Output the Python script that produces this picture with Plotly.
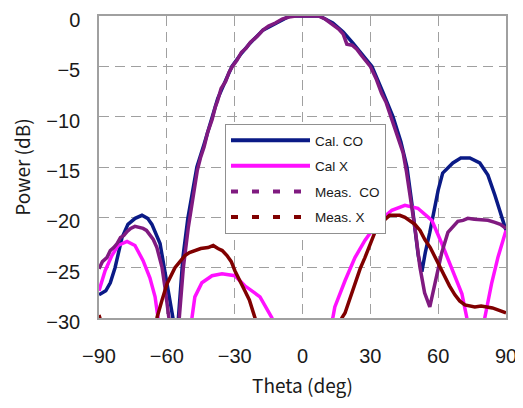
import plotly.graph_objects as go

# ---- data ----
theta_cal_co = [-90, -87, -85, -82.9, -79.8, -77.2, -74, -71, -68.5, -66.6, -63, -60.8, -58.6, -57.3, -56.2, -55,
                -52.9, -50.7, -48.4, -46.7, -43.6, -40, -37.5, -34, -31.2, -27, -23.2, -17.5, -10, -5.6, 0, 7.5,
                13.4, 18, 22.3, 26.5, 30.7, 35.6, 40, 43.5, 46.2, 48.3, 49.9, 51.2, 52.8, 54.3, 56.3, 58.5, 60,
                62, 66.5, 70, 74, 78.4, 82, 85.1, 87.5, 90]
p_cal_co = [-27.7, -27.3, -26.5, -25.0, -22.0, -20.7, -20.1, -19.8, -20.1, -20.7, -22.6, -25.6, -28.2, -30, -34, -30,
            -24.0, -20.1, -17.3, -15.0, -12.8, -10.0, -8.2, -6.4, -5.0, -3.7, -2.7, -1.4, -0.5, 0, 0, 0,
            -0.7, -1.6, -2.7, -3.8, -5.0, -7.6, -10.0, -12.5, -15.0, -18.5, -21.5, -23.8, -25.4, -23.5, -21.5, -19.0, -17.3,
            -15.6, -14.6, -14.1, -14.1, -14.6, -15.8, -17.8, -19.6, -21.3]

theta_cal_x = [-90, -87.3, -84.3, -81.6, -77.6, -74.1, -70.5, -67.5, -65.2, -63.9, -62, -56, -50, -48.9, -47.6,
               -44.5, -40, -35.6, -29.9, -25.5, -18.8, -13.5, -10, 0, 10, 13.4, 14.3, 18.8, 23.2, 27.6, 33.3,
               39.5, 45.3, 51, 57.2, 61.6, 66, 70.5, 72.7, 76, 79, 80.6, 83.7, 86.4, 90]
p_cal_x = [-27.3, -25.3, -23.8, -22.8, -22.4, -22.8, -24.3, -26.0, -27.9, -30, -33, -38, -32, -30, -27.9,
           -26.5, -25.8, -25.6, -25.8, -26.8, -27.9, -30, -33, -40, -33, -30, -28.9, -26.3, -24.0, -22.3, -20.5,
           -19.3, -18.8, -19.1, -20.3, -22.6, -25.0, -27.6, -30, -34, -33, -30, -26.5, -24.0, -21.3]

theta_meas_co = [-90, -88.5, -86.5, -85, -83.5, -82, -80.5, -79, -77.5, -76, -74.1, -72.5, -70.5, -69, -67.5, -66,
                 -64.4, -62.1, -60.8, -59.5, -58.5, -57, -56, -54.5, -52.7, -50.5, -48.5, -46.5, -45, -43.5, -42,
                 -40, -38.5, -37.5, -36, -34, -32.5, -31, -29, -27, -25, -23, -20, -17.5, -15, -12, -9, -6, -3, 0,
                 3, 7, 10, 13, 16, 18, 19.6, 22, 24, 26, 28, 30, 32.5, 35, 37, 39.5, 41, 43, 44.5, 46, 48, 50,
                 51.9, 54, 56.3, 58.5, 61.6, 64.3, 66.5, 68.7, 71, 73.1, 76, 79.3, 82, 85.1, 87.5, 90]
p_meas_co = [-25.1, -24.4, -24.0, -23.3, -23.0, -22.6, -22.0, -21.8, -21.4, -21.1, -20.9, -21.0, -21.1, -21.3, -21.7, -22.2,
             -23.0, -25.0, -27.0, -28.9, -31, -34, -33, -30, -25.0, -21.0, -18.0, -15.3, -14.0, -13.0, -11.6,
             -10.3, -9.0, -8.4, -7.2, -6.5, -5.6, -5.0, -4.4, -3.6, -3.2, -2.6, -2.0, -1.4, -1.0, -0.7, -0.3, -0.1, 0, 0,
             0, 0, -0.3, -0.8, -1.3, -1.8, -2.8, -2.9, -3.3, -3.9, -4.5, -5.0, -6.2, -7.7, -8.6, -10.2, -11.2, -12.7, -13.6, -15.5, -18.3, -21.5,
             -24.9, -27.5, -28.9, -26.5, -23.5, -21.5, -20.9, -20.4, -20.3, -20.1, -20.2, -20.3, -20.3, -20.5, -20.7, -21.1]

theta_meas_x = [-90, -89, -87, -80, -70, -66, -64.4, -62.1, -59.9, -56.4, -54, -52, -50, -47.6, -45, -41.8, -39.5,
                -37.4, -35.5, -33.4, -31.5, -29.9, -27.5, -25.5, -23.5, -21.9, -21, -19, -10, 0, 10, 15, 17.4, 18.8,
                21, 23.2, 25.5, 27.6, 30, 32, 34, 36.4, 38.5, 40.9, 43, 45.3, 47.5, 49.7, 52, 54.1, 56.5, 58.5, 61,
                63, 65, 67.4, 69.5, 71.8, 74, 76.2, 79, 82, 84, 86.4, 88, 90]
p_meas_x = [-29.7, -30.5, -32, -35, -35, -31, -30, -28.2, -26.6, -25.0, -24.3, -23.8, -23.5, -23.3, -23.1, -23.0, -22.8,
            -23.1, -23.3, -23.8, -24.4, -25.3, -26.3, -27.3, -28.2, -29.2, -30, -32, -36, -38, -36, -32, -30, -29.5,
            -28.0, -26.5, -25.1, -24.0, -22.6, -21.5, -20.7, -20.2, -19.8, -19.8, -19.8, -20.0, -20.3, -20.7, -21.3, -22.2, -23.0, -23.9, -25.0,
            -25.9, -26.8, -27.7, -28.3, -28.7, -28.8, -28.9, -28.8, -28.9, -29.0, -29.2, -29.3, -29.5]

series_names = ["Cal. CO", "Cal X", "Meas.\u00a0 CO", "Meas. X"]
series_colors = ["#0a1a86", "#ff10ff", "#801a80", "#800000"]

x_ticks = [-90, -60, -30, 0, 30, 60, 90]
y_ticks = [0, -5, -10, -15, -20, -25, -30]

fig = go.Figure()
data = [(theta_cal_co, p_cal_co), (theta_cal_x, p_cal_x), (theta_meas_co, p_meas_co), (theta_meas_x, p_meas_x)]
for (xs, ys), c in zip(data, series_colors):
    fig.add_trace(go.Scatter(x=xs, y=ys, mode="lines", line=dict(color=c, width=3.5),
                             showlegend=False, hoverinfo="skip"))

legend_dash = ["solid", "solid", "7px,14px", "7px,14px"]
for i, (name, c, d) in enumerate(zip(series_names, series_colors, legend_dash)):
    fig.add_trace(go.Scatter(x=[None], y=[None], mode="lines", name=name,
                             line=dict(color=c, width=4, dash=d), legendgroup=f"g{i}"))

axis_common = dict(
    automargin=False, ticklabeloverflow="allow",
    showgrid=True, gridcolor="#a0a0a0", gridwidth=1, griddash="10px,6px",
    showline=True, linecolor="#a0a0a0", linewidth=1.5, mirror=True,
    zeroline=False, ticks="outside", tickcolor="rgba(0,0,0,0)",
    tickfont=dict(family="Liberation Sans, Arial, sans-serif", size=20, color="#1a1a1a"),
)

# the page body has an 8px margin, so the figure is sized/offset to compensate
fig.update_layout(
    width=515, height=400,
    margin=dict(l=91, r=17, t=8, b=90),
    paper_bgcolor="white", plot_bgcolor="white",
    xaxis=dict(range=[-90, 90], tickvals=x_ticks, ticklen=19,
               title=dict(text="Theta (deg)", standoff=14,
                          font=dict(family="Noto Sans CJK JP", size=19, color="#1a1a1a")),
               **axis_common),
    yaxis=dict(range=[-30, 0], tickvals=y_ticks, ticklen=13, ticklabelshift=4,
               title=dict(text="Power (dB)", standoff=18,
                          font=dict(family="Noto Sans CJK JP", size=19, color="#1a1a1a")),
               **axis_common),
    legend=dict(x=(225 - 99) / 407, y=(318 - 124) / 302, xanchor="left", yanchor="top",
                bgcolor="white", bordercolor="#909090", borderwidth=1,
                font=dict(family="Liberation Sans, Arial, sans-serif", size=13.5, color="#1a1a1a"),
                tracegroupgap=5, itemwidth=79),
)

fig.write_html("out.html")
